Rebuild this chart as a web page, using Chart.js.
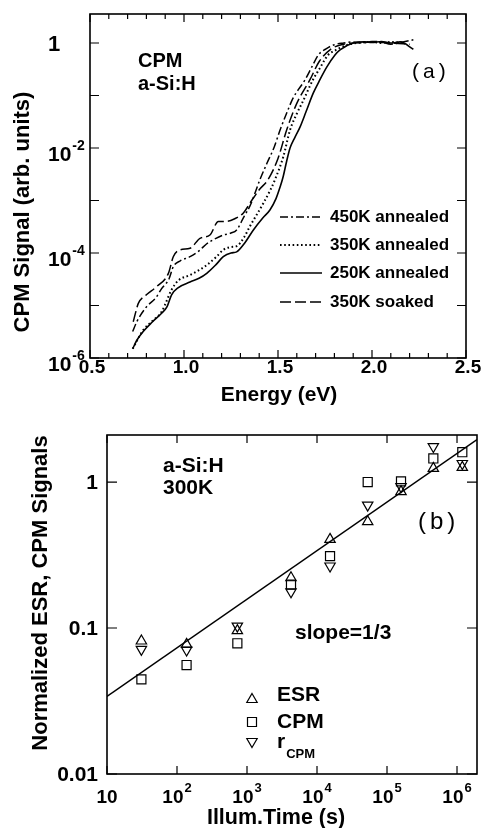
<!DOCTYPE html>
<html><head><meta charset="utf-8">
<script src="https://cdn.jsdelivr.net/npm/chart.js@4.4.1/dist/chart.umd.min.js"></script>
<style>
html,body{margin:0;padding:0;background:#fff;}
#wrap{position:relative;width:485px;height:828px;background:#fff;}
#c1{position:absolute;left:0;top:0;width:485px;height:410px;}
#c2{position:absolute;left:0;top:410px;width:485px;height:418px;}
</style></head><body>
<div id="wrap"><canvas id="c1" width="485" height="410"></canvas><canvas id="c2" width="485" height="418"></canvas></div>
<script>
// ---------- Panel (a): CPM spectra ----------
const energy450 = [0.727,0.75,0.801,0.85,0.881,0.92,0.943,0.98,1.032,1.08,1.121,1.17,1.209,1.25,1.28,1.32,1.351,1.404,1.44,1.48,1.511,1.55,1.58,1.644,1.68,1.714,1.76,1.80,1.85,1.9,1.95,2.0,2.05,2.1,2.15,2.22];
const signal450 = [3.2e-6,5.0e-6,9.5e-6,1.4e-5,2.1e-5,3.2e-5,5.5e-5,7.1e-5,8.5e-5,1.1e-4,1.5e-4,1.9e-4,2.2e-4,2.4e-4,2.75e-4,5.0e-4,7.9e-4,2.5e-3,5.0e-3,1.05e-2,2.2e-2,5.0e-2,8.9e-2,0.2,0.35,0.59,0.79,0.93,1.0,1.05,1.0,1.07,1.05,0.95,1.02,1.15];

const energy350 = [0.727,0.783,0.83,0.881,0.934,0.97,1.032,1.08,1.121,1.17,1.209,1.25,1.28,1.32,1.35,1.39,1.422,1.46,1.484,1.528,1.564,1.60,1.635,1.686,1.72,1.766,1.80,1.865,1.92,2.0,2.05,2.1,2.17];
const signal350 = [1.5e-6,3.4e-6,5.0e-6,7.6e-6,2.0e-5,3.0e-5,3.8e-5,4.7e-5,5.9e-5,8.3e-5,1.15e-4,1.3e-4,1.35e-4,2.0e-4,3.2e-4,5.6e-4,8.9e-4,1.6e-3,2.5e-3,6.8e-3,2.2e-2,4.5e-2,8.1e-2,0.2,0.32,0.59,0.71,0.91,1.0,1.05,1.0,1.05,1.0];

const energy250 = [0.727,0.75,0.783,0.83,0.881,0.91,0.934,0.97,1.032,1.08,1.121,1.17,1.209,1.25,1.28,1.32,1.369,1.42,1.457,1.49,1.511,1.527,1.546,1.564,1.59,1.617,1.65,1.688,1.723,1.76,1.803,1.83,1.90,1.96,2.0,2.05,2.1,2.15,2.22];
const signal250 = [1.5e-6,2.2e-6,3.2e-6,4.8e-6,7.1e-6,9.5e-6,1.6e-5,2.2e-5,2.8e-5,3.3e-5,4.1e-5,6.0e-5,8.5e-5,1.0e-4,1.05e-4,1.5e-4,2.75e-4,4.7e-4,6.6e-4,1.1e-3,1.8e-3,2.8e-3,5.6e-3,1.0e-2,1.6e-2,2.5e-2,5.0e-2,0.112,0.2,0.35,0.59,0.74,1.0,1.05,1.02,1.07,1.0,1.05,0.76];

const energySoaked = [0.73,0.745,0.757,0.80,0.855,0.917,0.943,0.979,1.032,1.085,1.138,1.183,1.227,1.27,1.316,1.36,1.40,1.447,1.50,1.546,1.60,1.67,1.72,1.78,1.85,1.9,2.0,2.1,2.2];
const signalSoaked = [4.9e-6,7.9e-6,1.1e-5,1.6e-5,2.3e-5,4.1e-5,8.5e-5,1.15e-4,1.23e-4,1.9e-4,2.2e-4,4.0e-4,4.0e-4,4.5e-4,5.8e-4,1.0e-3,1.6e-3,2.5e-3,6.3e-3,2.2e-2,7.1e-2,0.2,0.45,0.76,0.95,1.0,1.05,1.0,0.95];

const curveLabels = ['450K annealed','350K annealed','250K annealed','350K soaked'];
const energyTicks = [0.5,1.0,1.5,2.0,2.5];
const energyTickLabels = ['0.5','1.0','1.5','2.0','2.5'];
const signalTicks = [1,1e-2,1e-4,1e-6];
const signalTickBase = ['1','10','10','10'];
const signalTickExp = ['','-2','-4','-6'];

// ---------- Panel (b): defect density vs illumination time ----------
const illumTime = [31,137,728,4250,15350,53000,158500,459000,1190000];
const esrValues = [0.0815,0.0773,0.096,0.221,0.405,0.535,0.86,1.24,1.26];
const cpmValues = [0.0445,0.0558,0.0786,0.198,0.311,1.0,1.01,1.45,1.6];
const rcpmValues = [0.0714,0.0707,0.103,0.177,0.266,0.695,0.93,1.75,1.34];
const slopeLineTime = [10,1.93e6];
const slopeLineValue = [0.034,1.95];
const timeTicks = [10,1e2,1e3,1e4,1e5,1e6];
const timeTickBase = ['10','10','10','10','10','10'];
const timeTickExp = ['','2','3','4','5','6'];
const normTicks = [1,0.1,0.01];
const normTickLabels = ['1','0.1','0.01'];

const FAM = '"Liberation Sans", Arial, Helvetica, sans-serif';
const B = px => `bold ${px}px ${FAM}`;

function pairs(xs, ys){ return xs.map((x,i)=>({x:x,y:ys[i]})); }

function text(ctx, s, x, y, font, align, base){
  ctx.font = font; ctx.textAlign = align || 'left'; ctx.textBaseline = base || 'middle';
  ctx.fillStyle = '#000'; ctx.fillText(s, x, y);
}

const dashes = [[8,3,2,3],[1.6,2.6],[],[11,4]];
const widths = [1.5,2.0,1.6,1.5];

const panelA = {
  id:'panelA',
  afterDraw(chart){
    const ctx = chart.ctx, a = chart.chartArea, xs = chart.scales.x, ys = chart.scales.y;
    ctx.save();
    ctx.strokeStyle = '#000'; ctx.lineWidth = 1.6;
    ctx.strokeRect(a.left, a.top, a.right-a.left, a.bottom-a.top);
    ctx.lineWidth = 1.2; ctx.beginPath();
    for (let i=0;i<=20;i++){
      const px = xs.getPixelForValue(0.5 + i*0.1);
      const len = (i%5===0) ? 8 : 5;
      ctx.moveTo(px,a.bottom); ctx.lineTo(px,a.bottom-len);
      ctx.moveTo(px,a.top); ctx.lineTo(px,a.top+len);
    }
    for (let e=-6;e<=0;e++){
      const py = ys.getPixelForValue(Math.pow(10,e));
      ctx.moveTo(a.left,py); ctx.lineTo(a.left+9,py);
      ctx.moveTo(a.right,py); ctx.lineTo(a.right-9,py);
    }
    ctx.stroke();
    energyTicks.forEach((v,i)=>text(ctx, energyTickLabels[i], xs.getPixelForValue(v)+2, 368, B(19), 'center'));
    signalTicks.forEach((v,i)=>{
      const py = ys.getPixelForValue(v);
      if (!signalTickExp[i]) { text(ctx, signalTickBase[i], 48, py+2, B(22), 'left'); return; }
      text(ctx, signalTickBase[i], 48, py+7, B(21), 'left');
      ctx.font = B(21); const w = ctx.measureText(signalTickBase[i]).width;
      text(ctx, signalTickExp[i], 48+w+1, py-2, B(14), 'left');
    });
    text(ctx, 'Energy (eV)', 279, 395, B(21), 'center');
    ctx.save(); ctx.translate(23, 212); ctx.rotate(-Math.PI/2);
    text(ctx, 'CPM Signal (arb. units)', 0, 0, B(22), 'center'); ctx.restore();
    text(ctx, 'CPM', 138, 61, B(20), 'left');
    text(ctx, 'a-Si:H', 138, 84, B(20), 'left');
    ctx.save(); ctx.letterSpacing = '4px';
    text(ctx, '(a)', 412, 72, `400 21px ${FAM}`, 'left'); ctx.restore();
    const rows = [217,245,273,302];
    chart.data.datasets.forEach((ds,i)=>{
      ctx.save(); ctx.strokeStyle='#000'; ctx.lineWidth = ds.borderWidth; ctx.setLineDash(ds.borderDash||[]);
      ctx.beginPath(); ctx.moveTo(280, rows[i]); ctx.lineTo(322, rows[i]); ctx.stroke(); ctx.restore();
      text(ctx, ds.label, 330, rows[i], B(17), 'left');
    });
    ctx.restore();
  }
};

new Chart(document.getElementById('c1'), {
  type:'line',
  data:{ datasets:[
    {label:curveLabels[0], data:pairs(energy450,signal450)},
    {label:curveLabels[1], data:pairs(energy350,signal350)},
    {label:curveLabels[2], data:pairs(energy250,signal250)},
    {label:curveLabels[3], data:pairs(energySoaked,signalSoaked)}
  ].map((d,i)=>Object.assign(d,{borderColor:'#000',borderWidth:widths[i],borderDash:dashes[i],pointRadius:0,fill:false,cubicInterpolationMode:'monotone'}))},
  options:{
    responsive:false, animation:false, devicePixelRatio:1,
    layout:{padding:{left:90,top:14,right:19,bottom:52}},
    scales:{
      x:{type:'linear',min:0.5,max:2.5,display:false},
      y:{type:'logarithmic',min:1e-6,max:3.57,display:false}
    },
    plugins:{legend:{display:false},tooltip:{enabled:false}}
  },
  plugins:[panelA]
});

function marker(ctx, kind, x, y){
  ctx.save(); ctx.strokeStyle='#000'; ctx.lineWidth=1.2; ctx.beginPath();
  if (kind==='rect'){ ctx.rect(x-4.5,y-4.5,9,9); }
  else { const r=6, s=(kind==='up')?1:-1; ctx.moveTo(x,y-s*r*0.75); ctx.lineTo(x+r*0.866,y+s*r*0.75); ctx.lineTo(x-r*0.866,y+s*r*0.75); ctx.closePath(); }
  ctx.stroke(); ctx.restore();
}

const panelB = {
  id:'panelB',
  afterDraw(chart){
    const ctx = chart.ctx, a = chart.chartArea, xs = chart.scales.x, ys = chart.scales.y;
    ctx.save();
    ctx.strokeStyle='#000'; ctx.lineWidth=1.6;
    ctx.strokeRect(a.left, a.top, a.right-a.left, a.bottom-a.top);
    ctx.lineWidth=1.2; ctx.beginPath();
    timeTicks.forEach(v=>{ const px = xs.getPixelForValue(v);
      ctx.moveTo(px,a.bottom); ctx.lineTo(px,a.bottom-8); ctx.moveTo(px,a.top); ctx.lineTo(px,a.top+8); });
    normTicks.forEach(v=>{ const py = ys.getPixelForValue(v);
      ctx.moveTo(a.left,py); ctx.lineTo(a.left+10,py); ctx.moveTo(a.right,py); ctx.lineTo(a.right-10,py); });
    ctx.stroke();
    timeTicks.forEach((v,i)=>{
      const px = xs.getPixelForValue(v);
      ctx.font = B(19); const wb = ctx.measureText(timeTickBase[i]).width;
      ctx.font = B(13); const we = timeTickExp[i] ? ctx.measureText(timeTickExp[i]).width + 1 : 0;
      const x0 = px - (wb+we)/2;
      text(ctx, timeTickBase[i], x0, 388, B(19), 'left');
      if (timeTickExp[i]) text(ctx, timeTickExp[i], x0+wb+1, 378, B(13), 'left');
    });
    normTicks.forEach((v,i)=>text(ctx, normTickLabels[i], 98, ys.getPixelForValue(v)+1, B(21), 'right'));
    text(ctx, 'Illum.Time (s)', 276, 408, B(21.5), 'center');
    ctx.save(); ctx.translate(41, 183); ctx.rotate(-Math.PI/2);
    text(ctx, 'Normalized ESR, CPM Signals', 0, 0, B(22), 'center'); ctx.restore();
    text(ctx, 'a-Si:H', 163, 56, B(21), 'left');
    text(ctx, '300K', 163, 78, B(21), 'left');
    text(ctx, 'slope=1/3', 295, 223, B(21), 'left');
    ctx.save(); ctx.letterSpacing = '4px';
    text(ctx, '(b)', 418, 112, `400 24px ${FAM}`, 'left'); ctx.restore();
    marker(ctx,'up',252,288); text(ctx,'ESR',277,285,B(21),'left');
    marker(ctx,'rect',252,312); text(ctx,'CPM',277,312,B(21),'left');
    marker(ctx,'down',252,333); text(ctx,'r',277,332,B(21),'left');
    ctx.font = B(21); const rw = ctx.measureText('r').width;
    text(ctx,'CPM',277+rw+1,344,B(13),'left');
    ctx.restore();
  }
};

new Chart(document.getElementById('c2'), {
  type:'scatter',
  data:{ datasets:[
    {label:'slope=1/3', data:pairs(slopeLineTime,slopeLineValue), showLine:true, borderColor:'#000', borderWidth:1.4, pointRadius:0},
    {label:'ESR', data:pairs(illumTime,esrValues), pointStyle:'triangle', pointRadius:6, borderColor:'#000', backgroundColor:'rgba(0,0,0,0)', borderWidth:1.2},
    {label:'CPM', data:pairs(illumTime,cpmValues), pointStyle:'rect', pointRadius:6.4, borderColor:'#000', backgroundColor:'rgba(0,0,0,0)', borderWidth:1.2},
    {label:'rCPM', data:pairs(illumTime,rcpmValues), pointStyle:'triangle', rotation:180, pointRadius:6, borderColor:'#000', backgroundColor:'rgba(0,0,0,0)', borderWidth:1.2}
  ]},
  options:{
    responsive:false, animation:false, devicePixelRatio:1,
    layout:{padding:{left:107,top:25,right:8,bottom:54}},
    scales:{
      x:{type:'logarithmic',min:10,max:1.93e6,display:false},
      y:{type:'logarithmic',min:0.01,max:2.1,display:false}
    },
    plugins:{legend:{display:false},tooltip:{enabled:false}}
  },
  plugins:[panelB]
});
</script>
</body></html>
